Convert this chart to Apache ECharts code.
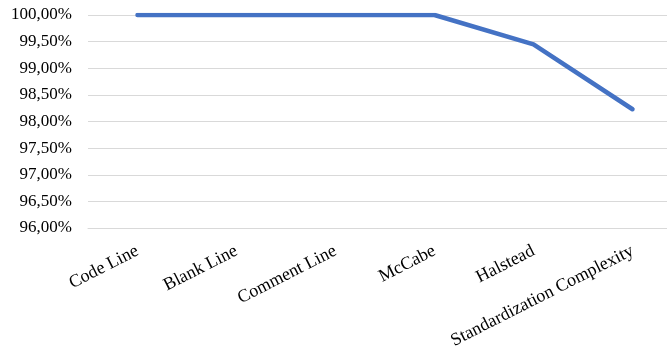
<!DOCTYPE html>
<html>
<head>
<meta charset="utf-8">
<script src="https://cdn.jsdelivr.net/npm/echarts@6/dist/echarts.min.js"></script>
<style>
  html, body { margin: 0; padding: 0; background: #fff; }
  #chart { width: 667px; height: 358px; }
</style>
</head>
<body>
<div id="chart"></div>
<script>
var categories = ['Code Line', 'Blank Line', 'Comment Line', 'McCabe', 'Halstead', 'Standardization Complexity']
var coverage = [100, 100, 100, 100, 99.45, 98.23]
var yMin = 96
var yMax = 100
var yStep = 0.5

var chart = echarts.init(document.getElementById('chart'))
var font = '"Liberation Serif", "Times New Roman", serif'

chart.setOption({
  animation: false,
  grid: {
    left: 88,
    right: -15,
    top: 15,
    bottom: 130,
    outerBoundsMode: 'none',
    containLabel: false
  },
  xAxis: {
    type: 'category',
    data: categories,
    boundaryGap: true,
    axisLine: { show: true, lineStyle: { color: '#d9d9d9', width: 1 } },
    axisTick: { show: false },
    axisLabel: {
      interval: 0,
      rotate: 27,
      margin: 22,
      color: '#000',
      fontFamily: font,
      fontSize: 18
    }
  },
  yAxis: {
    type: 'value',
    min: yMin,
    max: yMax,
    interval: yStep,
    axisLine: { show: false },
    axisTick: { show: false },
    splitLine: { lineStyle: { color: '#d9d9d9', width: 1 } },
    axisLabel: {
      margin: 16,
      color: '#000',
      fontFamily: font,
      fontSize: 17,
      formatter: function (v) {
        return v.toFixed(2).replace('.', ',') + '%'
      }
    }
  },
  series: [{
    type: 'line',
    data: coverage,
    symbol: 'none',
    lineStyle: { color: '#4472c4', width: 4.5, cap: 'round', join: 'round' }
  }]
})
</script>
</body>
</html>
